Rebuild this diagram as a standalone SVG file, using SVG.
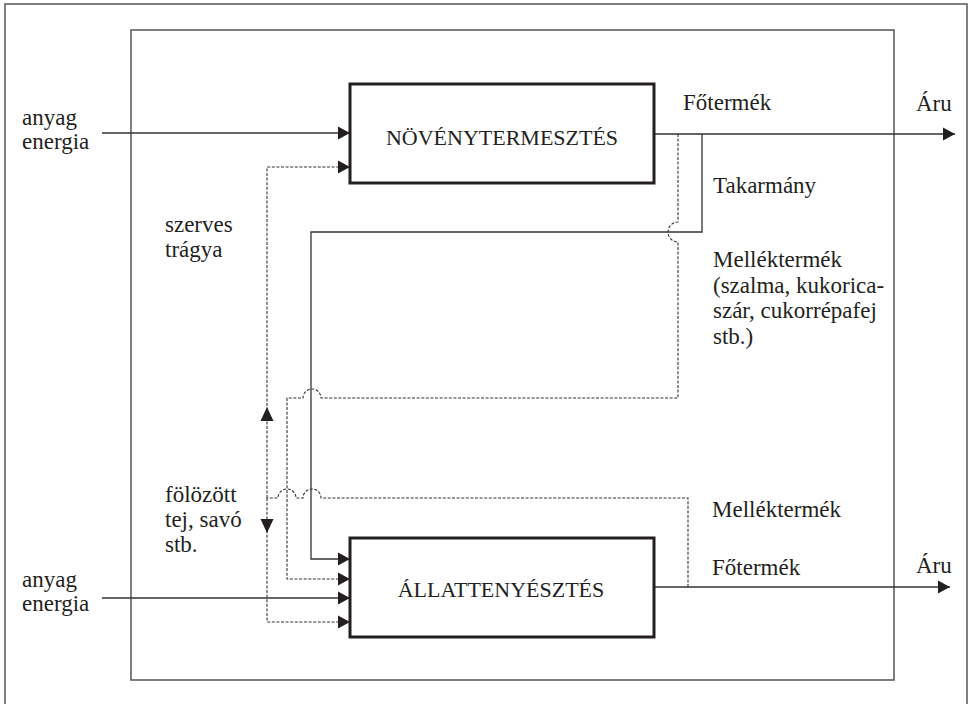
<svg xmlns="http://www.w3.org/2000/svg" width="971" height="704" viewBox="0 0 971 704">
<style>
text{font-family:"Liberation Serif","Times New Roman",serif;font-size:23px;fill:#231f20}
text.bx{font-size:22px}
.box{fill:#fff;stroke:#231f20;stroke-width:3}
.solid{fill:none;stroke:#333;stroke-width:1.3}
.dot{fill:none;stroke:#333;stroke-width:1.1;stroke-dasharray:3 1.6}
.frame{fill:none;stroke:#555;stroke-width:1.5}
.tri{fill:#231f20}
</style>
<defs>
<marker id="arr" markerUnits="userSpaceOnUse" markerWidth="13" markerHeight="14" refX="12" refY="7" orient="auto">
<path d="M0,0.5 L12,7 L0,13.5 Z" fill="#231f20"/>
</marker>
</defs>
<g id="frame">
<path class="frame" d="M5,712 V4 H967 V712"/>
<rect class="frame" x="131" y="30" width="763" height="650"/>
</g>
<g id="connectors">
<path class="solid" d="M102,133 H350" marker-end="url(#arr)"/>
<path class="solid" d="M654,134 H955" marker-end="url(#arr)"/>
<path class="solid" d="M702,134 V232 H311 V559 H350" marker-end="url(#arr)"/>
<path class="dot" d="M678,134 V222 A10,10 0 0 0 678,242 V398 H321 A9,9 0 0 0 303,398 H287 V579 H350" marker-end="url(#arr)"/>
<path class="dot" d="M688,587 V498 H321 A9,9 0 0 0 303,498 H296 A9,9 0 0 0 278,498 H267"/>
<path class="dot" d="M267,498 V167 H350" marker-end="url(#arr)"/>
<path class="dot" d="M267,498 V622 H350" marker-end="url(#arr)"/>
<path class="tri" d="M267,407 L273.5,421 L260.5,421 Z"/>
<path class="tri" d="M267,533 L273.5,519 L260.5,519 Z"/>
<path class="solid" d="M102,598 H350" marker-end="url(#arr)"/>
<path class="solid" d="M654,587 H950" marker-end="url(#arr)"/>
</g>
<g id="novenytermesztes">
<rect class="box" x="350" y="84" width="304" height="99"/>
<text class="bx" x="502" y="145" text-anchor="middle">NÖVÉNYTERMESZTÉS</text>
</g>
<g id="allattenyesztes">
<rect class="box" x="350" y="538" width="304" height="99"/>
<text class="bx" x="501" y="597" text-anchor="middle">ÁLLATTENYÉSZTÉS</text>
</g>
<g id="labels">
<text x="22" y="125">anyag</text>
<text x="22" y="149">energia</text>
<text x="165" y="232">szerves</text>
<text x="165" y="257">trágya</text>
<text x="165" y="502">fölözött</text>
<text x="165" y="527">tej, savó</text>
<text x="165" y="552">stb.</text>
<text x="22" y="587">anyag</text>
<text x="22" y="611">energia</text>
<text x="683" y="110">Főtermék</text>
<text x="916" y="111">Áru</text>
<text x="713" y="193">Takarmány</text>
<text x="713" y="267">Melléktermék</text>
<text x="713" y="293">(szalma, kukorica-</text>
<text x="713" y="318">szár, cukorrépafej</text>
<text x="713" y="344">stb.)</text>
<text x="712" y="517">Melléktermék</text>
<text x="712" y="575">Főtermék</text>
<text x="916" y="573">Áru</text>
</g>
</svg>
